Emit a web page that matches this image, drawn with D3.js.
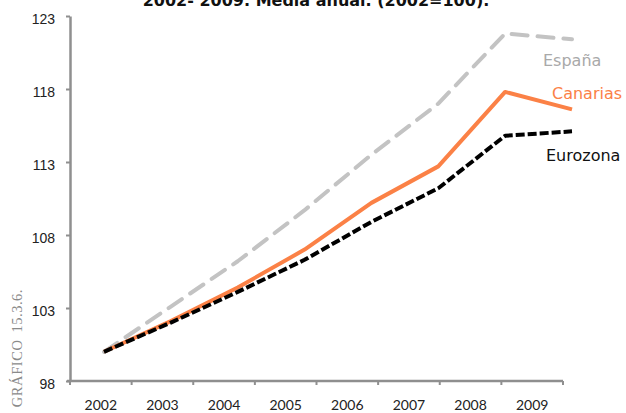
<!DOCTYPE html>
<html>
<head>
<meta charset="utf-8">
<script src="https://cdn.jsdelivr.net/npm/d3@7"></script>
<style>
  html, body { margin: 0; padding: 0; background: #fff; }
  svg { display: block; }
</style>
</head>
<body>
<svg id="chart" width="626" height="413"></svg>
<script>
const years = ["2002","2003","2004","2005","2006","2007","2008","2009"];
const espana   = [100, 103.1, 106.2, 109.7, 113.5, 117.0, 121.8, 121.4];
const canarias = [100, 102.1, 104.4, 107.0, 110.2, 112.7, 117.8, 116.6];
const eurozona = [100, 102.0, 104.1, 106.3, 108.9, 111.2, 114.8, 115.1];
const yTicks = [98, 103, 108, 113, 118, 123];
const titleText = "2002- 2009. Media anual. (2002=100).";
const sideText = ["GRÁFICO", "15.3.6."];

const series = [
  { name: "España",   values: espana,   color: "#c3c3c3", labelColor: "#a9a9a9", dash: "16,10", cap: "round", lx: 543, ly: 66 },
  { name: "Canarias", values: canarias, color: "#fb8146", labelColor: "#fb8146", dash: null,    cap: "butt",  lx: 552, ly: 99 },
  { name: "Eurozona", values: eurozona, color: "#000000", labelColor: "#111111", dash: "9,3",   cap: "butt",  lx: 546, ly: 161 }
];

const svg = d3.select("#chart");
const axisColor = "#8f8f8f";

const y = d3.scaleLinear().domain([98, 123]).range([381, 16]);
const xBand = d3.scaleBand().domain(years).range([70, 563]).paddingInner(0).paddingOuter(0);
const xLine = d3.scalePoint().domain(years).range([104, 572]);

// title (cut off at top, as in the reference)
svg.append("text")
  .attr("x", 316).attr("y", 6)
  .attr("text-anchor", "middle")
  .style("font-family", "DejaVu Sans")
  .style("font-weight", "bold")
  .style("font-size", "16px")
  .attr("fill", "#111")
  .text(titleText);

// side label
const side = svg.append("text")
  .attr("transform", "translate(22,289) rotate(-90)")
  .attr("text-anchor", "end")
  .style("font-family", "Liberation Serif")
  .style("font-size", "14.5px")
  .attr("fill", "#8a8a8a");
side.append("tspan").style("letter-spacing", "0.6px").text(sideText[0]);
side.append("tspan").attr("dx", 7).style("letter-spacing", "0.5px").text(sideText[1]);

// y axis
const yAxis = svg.append("g")
  .attr("transform", "translate(70,0)")
  .call(d3.axisLeft(y).tickValues(yTicks).tickSize(4).tickSizeOuter(0).tickPadding(11).tickFormat(d3.format("d")));
yAxis.select(".domain").attr("stroke", axisColor).attr("stroke-width", 2.5);
yAxis.selectAll(".tick line").attr("stroke", axisColor).attr("stroke-width", 2);
yAxis.selectAll(".tick text")
  .attr("dy", "0.55em")
  .style("font-family", "Liberation Sans")
  .style("font-size", "14px")
  .attr("fill", "#222");

// x axis: labels at band centers, ticks at band boundaries
const xAxis = svg.append("g")
  .attr("transform", "translate(0,381)")
  .call(d3.axisBottom(xBand).tickSize(0).tickSizeOuter(0).tickPadding(19));
xAxis.select(".domain").remove();
xAxis.selectAll(".tick text")
  .style("font-family", "Lato")
  .style("font-size", "14px")
  .attr("fill", "#222");
const bounds = years.map(d => xBand(d)).concat([xBand(years[years.length - 1]) + xBand.bandwidth()]);
xAxis.selectAll("line.bt").data(bounds).enter().append("line")
  .attr("class", "bt")
  .attr("x1", d => d).attr("x2", d => d)
  .attr("y1", 0).attr("y2", 4)
  .attr("stroke", axisColor).attr("stroke-width", 2);
xAxis.append("line")
  .attr("x1", xBand.range()[0] - 3).attr("x2", xBand.range()[1])
  .attr("y1", 0).attr("y2", 0)
  .attr("stroke", axisColor).attr("stroke-width", 2.5);

// lines
const line = d3.line()
  .x((d, i) => xLine(years[i]))
  .y(d => y(d));

series.forEach(s => {
  const p = svg.append("path")
    .datum(s.values)
    .attr("d", line)
    .attr("fill", "none")
    .attr("stroke", s.color)
    .attr("stroke-width", 4)
    .attr("stroke-linejoin", "round")
    .attr("stroke-linecap", s.cap);
  if (s.dash) p.attr("stroke-dasharray", s.dash);
  svg.append("text")
    .attr("x", s.lx).attr("y", s.ly)
    .style("font-family", "DejaVu Sans")
    .style("font-size", "16px")
    .attr("fill", s.labelColor)
    .text(s.name);
});
</script>
</body>
</html>
